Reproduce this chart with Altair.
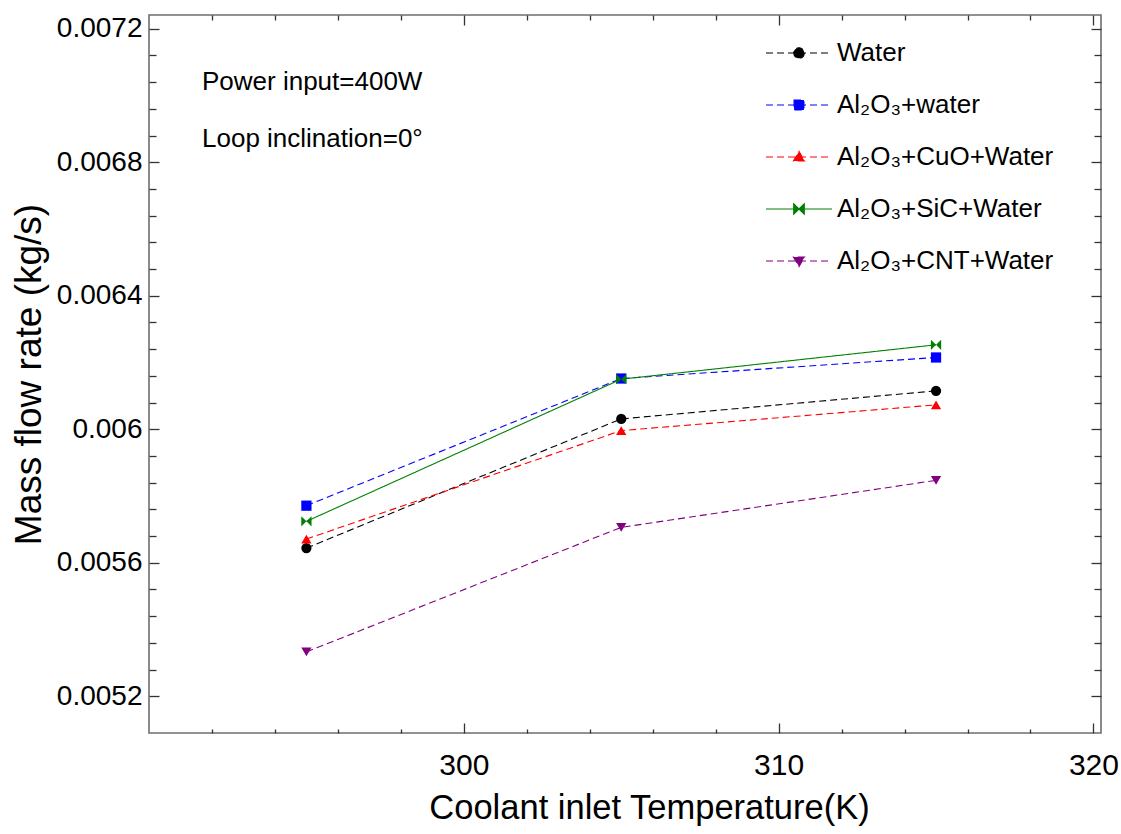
import altair as alt
import pandas as pd

# ---------------- data ----------------
temps = [295, 305, 315]
series = ["Water", "Al₂O₃+water", "Al₂O₃+CuO+Water", "Al₂O₃+SiC+Water", "Al₂O₃+CNT+Water"]
water = [0.005644, 0.006031, 0.006115]
al2o3 = [0.005771, 0.006152, 0.006215]
al2o3_cuo = [0.005671, 0.005996, 0.006073]
al2o3_sic = [0.005724, 0.006150, 0.006253]
al2o3_cnt = [0.005333, 0.005706, 0.005847]

colors = ["#000000", "#0000ff", "#ff0000", "#008000", "#800080"]
dashes = [[7, 4], [7, 4], [7, 4], [1, 0], [7, 4]]
bowtie = "M-1,-1L0,0L-1,1ZM1,-1L0,0L1,1Z"
shapes = ["circle", "square", "triangle-up", bowtie, "triangle-down"]
legend_shapes = [
    "M-1,0H1M0.16,0A0.16,0.16,0,1,1,-0.16,0A0.16,0.16,0,1,1,0.16,0Z",
    "M-1,0H1M-0.15,-0.15H0.15V0.15H-0.15Z",
    "M-1,0H1M0,-0.17L0.17,0.12L-0.17,0.12Z",
    "M-1,0H1M-0.16,-0.16L0,0L-0.16,0.16ZM0.16,-0.16L0,0L0.16,0.16Z",
    "M-1,0H1M0,0.17L0.17,-0.12L-0.17,-0.12Z",
]

x_major = [300, 310, 320]
x_minor = [292, 294, 296, 298, 302, 304, 306, 308, 312, 314, 316, 318]
y_major = [0.0052, 0.0056, 0.006, 0.0064, 0.0068, 0.0072]
y_minor = [round(0.0052 + i * 0.00008, 6) for i in range(26) if i % 5 != 0]
x_domain = [290, 320.24]
y_domain = [0.00509, 0.007241]

annotations = ["Power input=400W", "Loop inclination=0°"]

all_values = [water, al2o3, al2o3_cuo, al2o3_sic, al2o3_cnt]
rows = []
for name, vals in zip(series, all_values):
    for t, v in zip(temps, vals):
        rows.append({"T": t, "m": v, "Fluid": name})
df = pd.DataFrame(rows)

FONT = "Liberation Sans"
W, H = 952, 718
TICK = "#333333"

xs = alt.Scale(domain=x_domain, nice=False, zero=False)
ys = alt.Scale(domain=y_domain, nice=False, zero=False)


def axis(orient, values, size, labels=False, **kw):
    return alt.Axis(orient=orient, values=values, tickSize=size, offset=-size,
                    domain=False, grid=False, labels=labels, tickColor=TICK,
                    tickWidth=1.3, labelFlush=False, labelOverlap=False, **kw)


leg = alt.Legend(orient="none", legendX=616, legendY=4, title=None, padding=0,
                 symbolSize=66 * 66, symbolStrokeWidth=1.1, labelFontSize=26,
                 labelFont=FONT, labelColor="#000", labelOffset=4, rowPadding=5,
                 labelLimit=0, symbolFillColor="#000000", symbolOpacity=1)

x_main = axis("bottom", x_major, 10, labels=True, title="Coolant inlet Temperature(K)",
              labelFontSize=30, labelPadding=17, labelFont=FONT, labelColor="#000",
              titleFont=FONT, titleFontSize=34.5, titleFontWeight="normal", titleColor="#000",
              titleX=500, titleY=95, titleBaseline="alphabetic", titleAlign="center")
y_main = axis("left", y_major, 10, labels=True, title="Mass flow rate (kg/s)", format=".2~r",
              labelFontSize=28, labelPadding=7, labelFont=FONT, labelColor="#000",
              titleFont=FONT, titleFontSize=37, titleFontWeight="normal", titleColor="#000",
              titleX=-119, titleY=359, titleBaseline="alphabetic", titleAlign="center",
              titleAngle=270)

# lines, one layer per series (first one carries the main axes)
line_layers = []
for i, (name, col, dsh) in enumerate(zip(series, colors, dashes)):
    line_layers.append(
        alt.Chart(df).transform_filter(alt.datum.Fluid == name).mark_line(
            strokeWidth=1.1, color=col, strokeDash=dsh).encode(
            x=alt.X("T:Q", scale=xs, axis=x_main if i == 0 else None),
            y=alt.Y("m:Q", scale=ys, axis=y_main if i == 0 else None),
        )
    )

# bottom/left minor ticks (invisible points)
minor_ax = alt.Chart(df).mark_point(opacity=0).encode(
    x=alt.X("T:Q", scale=xs, axis=axis("bottom", x_minor, 4, title=None)),
    y=alt.Y("m:Q", scale=ys, axis=axis("left", y_minor, 7, title=None)),
)

# mirrored top / right major ticks + legend carrier (invisible in plot)
carrier = alt.Chart(df).mark_point(filled=True, opacity=0, strokeWidth=1.1).encode(
    x=alt.X("T:Q", scale=xs, axis=axis("top", x_major, 10, title=None)),
    y=alt.Y("m:Q", scale=ys, axis=axis("right", y_major, 10, title=None)),
    fill=alt.Fill("Fluid:N", scale=alt.Scale(domain=series, range=colors), legend=leg),
    stroke=alt.Stroke("Fluid:N", scale=alt.Scale(domain=series, range=colors), legend=leg),
    shape=alt.Shape("Fluid:N", scale=alt.Scale(domain=series, range=legend_shapes), legend=leg),
    strokeDash=alt.StrokeDash("Fluid:N", scale=alt.Scale(domain=series, range=dashes), legend=leg),
)
mirror_minor = alt.Chart(df).mark_point(opacity=0).encode(
    x=alt.X("T:Q", scale=xs, axis=axis("top", x_minor, 5, title=None)),
    y=alt.Y("m:Q", scale=ys, axis=axis("right", y_minor, 7, title=None)),
)

# visible markers, one layer per series
marker_layers = []
for name, shp, col in zip(series, shapes, colors):
    marker_layers.append(
        alt.Chart(df).transform_filter(alt.datum.Fluid == name).mark_point(
            filled=True, size=105, opacity=1, shape=shp, color=col).encode(
            x=alt.X("T:Q", scale=xs, axis=None),
            y=alt.Y("m:Q", scale=ys, axis=None),
        )
    )

ann_df = pd.DataFrame({"label": annotations})
ann1 = alt.Chart(ann_df).transform_filter(alt.datum.label == annotations[0]).mark_text(
    font=FONT, fontSize=26, align="left", baseline="alphabetic", color="#000").encode(
    x=alt.value(53), y=alt.value(75), text="label:N")
ann2 = alt.Chart(ann_df).transform_filter(alt.datum.label == annotations[1]).mark_text(
    font=FONT, fontSize=26, align="left", baseline="alphabetic", color="#000").encode(
    x=alt.value(53), y=alt.value(132), text="label:N")

chart = alt.layer(*line_layers, minor_ax, carrier, mirror_minor, *marker_layers, ann1, ann2).resolve_axis(
    x="independent", y="independent"
).properties(
    width=W, height=H,
    padding={"left": 149, "top": 15, "right": 20, "bottom": 101},
    autosize=alt.AutoSizeParams(type="none"),
    background="#ffffff",
).configure_view(stroke="#6e6e6e", strokeWidth=1.6)

chart.save("out.html", embed_options={"renderer": "svg", "actions": False})
